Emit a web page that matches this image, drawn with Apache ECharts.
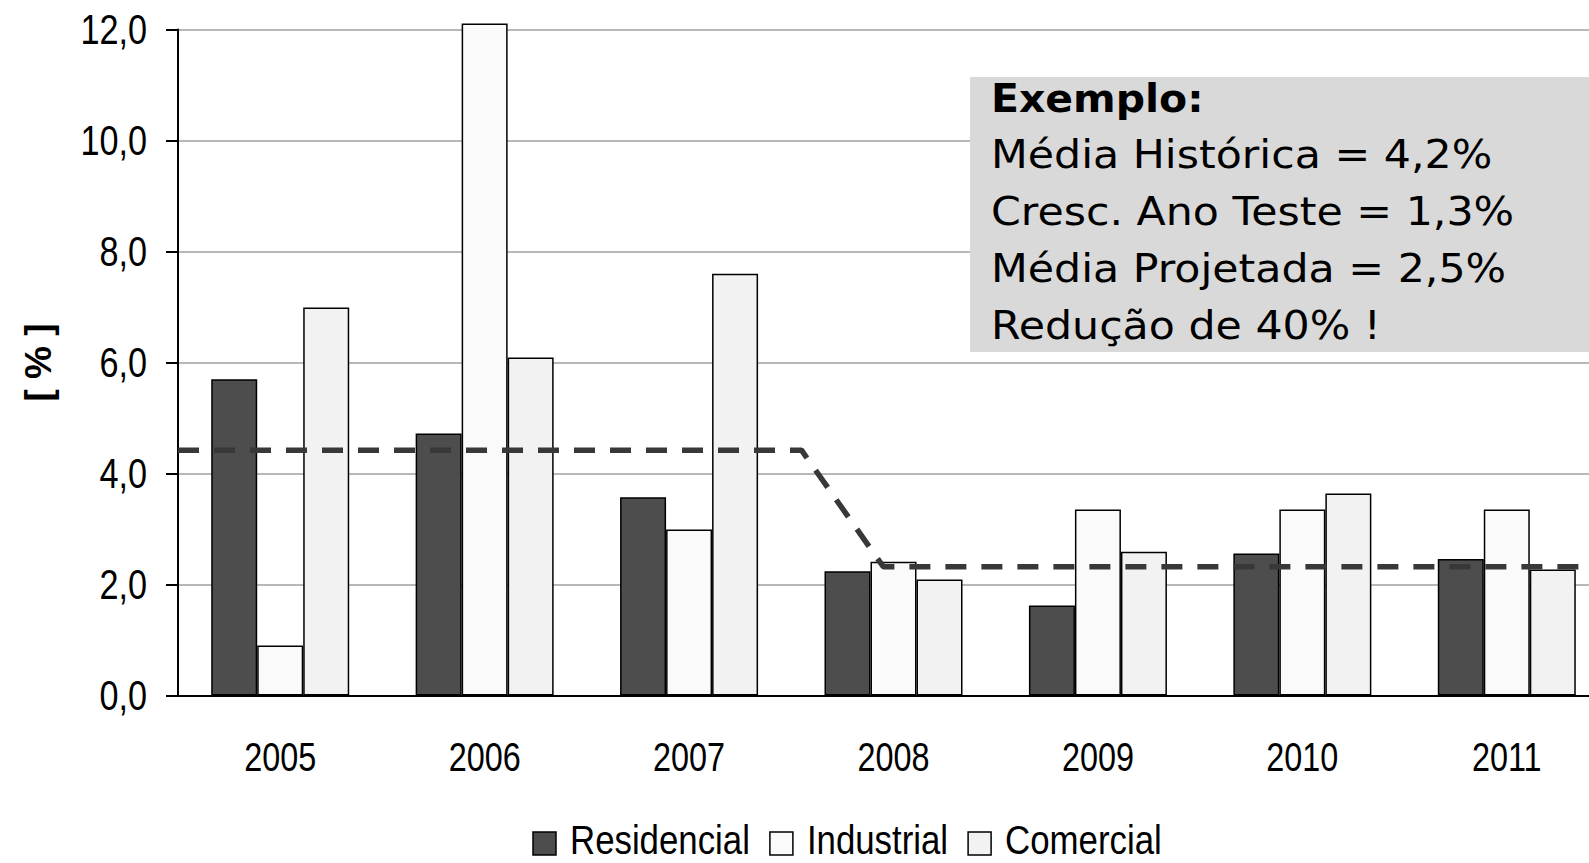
<!DOCTYPE html>
<html>
<head>
<meta charset="utf-8">
<script src="https://cdn.jsdelivr.net/npm/echarts@6/dist/echarts.min.js"></script>
<style>
html,body{margin:0;padding:0;background:#fff;}
#main{width:1589px;height:863px;}
</style>
</head>
<body>
<div id="main"></div>
<script>
const categories = ['2005','2006','2007','2008','2009','2010','2011'];
const residencial = [5.70, 4.72, 3.57, 2.24, 1.62, 2.56, 2.46];
const industrial  = [0.90, 12.11, 2.99, 2.41, 3.35, 3.35, 3.35];
const comercial   = [6.99, 6.09, 7.60, 2.09, 2.59, 3.64, 2.27];
// dashed average line in category units (0 = left edge, 7 = right edge)
const mediaX = [0, 3.05, 3.45, 7];
const mediaY = [4.42, 4.42, 2.32, 2.32];
const yTicks = [0, 2, 4, 6, 8, 10, 12];
const seriesNames = ['Residencial', 'Industrial', 'Comercial'];
const seriesColors = ['#4d4d4d', '#fafafa', '#f2f2f2'];
const boxLines = ['Exemplo:', 'Média Histórica = 4,2%', 'Cresc. Ano Teste = 1,3%', 'Média Projetada = 2,5%', 'Redução de 40% !'];

const NARROW_FONT = "'Liberation Sans', Arial, sans-serif";
const chart = echarts.init(document.getElementById('main'), null, { renderer: 'svg' });

const barStyle = (c) => ({ color: c, borderColor: '#000', borderWidth: 1.5 });

chart.setOption({
  animation: false,
  backgroundColor: '#fff',
  grid: { left: 178, top: 29.5, width: 1431, height: 666, containLabel: false, outerBoundsMode: 'none' },
  xAxis: [{
    type: 'category', data: categories,
    axisLine: { lineStyle: { color: '#000', width: 2 } },
    axisTick: { length: 13, lineStyle: { color: '#000', width: 2 } },
    axisLabel: { show: false },
    splitLine: { show: false }
  }, {
    type: 'value', min: 0, max: 7, show: false, position: 'bottom'
  }],
  yAxis: {
    type: 'value', min: yTicks[0], max: yTicks[yTicks.length - 1], interval: 2,
    name: '[ % ]', nameLocation: 'middle', nameRotate: 90, nameGap: 121,
    nameTextStyle: { fontFamily: "'Liberation Sans',Arial,sans-serif", fontWeight: 'bold', fontSize: 37, color: '#000' },
    axisLine: { show: true, lineStyle: { color: '#000', width: 2 } },
    axisTick: { show: true, length: 12, lineStyle: { color: '#000', width: 2 } },
    axisLabel: { show: false },
    splitLine: { lineStyle: { color: '#a0a0a0', width: 1.5 } }
  },
  series: [
    { name: seriesNames[0], type: 'bar', clip: false, data: residencial, barWidth: 46, barGap: '0%', itemStyle: barStyle(seriesColors[0]) },
    { name: seriesNames[1], type: 'bar', clip: false, data: industrial, barWidth: 46, barGap: '0%', itemStyle: barStyle(seriesColors[1]) },
    { name: seriesNames[2], type: 'bar', clip: false, data: comercial, barWidth: 46, barGap: '0%', itemStyle: barStyle(seriesColors[2]) },
    {
      name: 'Média', type: 'line', xAxisIndex: 1, z: 5,
      data: mediaX.map((x, i) => [x, mediaY[i]]),
      symbol: 'none',
      lineStyle: { color: '#383838', width: 5.5, type: [21, 15] }
    }
  ]
});

// text helpers: narrow text is drawn as real text, condensed horizontally
function txt(text, x, y, opt) {
  const st = {
    text: text, fill: '#000', font: opt.font,
    align: opt.align || 'left', textAlign: opt.align || 'left',
    verticalAlign: 'middle', textVerticalAlign: 'middle'
  };
  if (opt.lineHeight) st.lineHeight = opt.lineHeight;
  return {
    type: 'text', x: x, y: y, z: 20,
    scaleX: opt.scaleX || 1, scaleY: 1,
    style: st
  };
}

const graphics = [];
// annotation box
graphics.push({ type: 'rect', z: 10, shape: { x: 970, y: 77, width: 640, height: 275 }, style: { fill: '#d9d9d9' } });
boxLines.forEach((t, i) => {
  graphics.push(txt(t, 991, 98 + i * 57, {
    font: (i === 0 ? 'bold ' : '') + "39px 'DejaVu Sans', Verdana, sans-serif",
    scaleX: i === 0 ? 1.05 : 1.095
  }));
});

// y tick labels from the y axis scale
yTicks.forEach(v => {
  const py = chart.convertToPixel({ yAxisIndex: 0 }, v);
  graphics.push(txt(v.toFixed(1).replace('.', ','), 147, py, { font: '42px ' + NARROW_FONT, align: 'right', scaleX: 0.815 }));
});
// x category labels from the x axis scale
categories.forEach(c => {
  const px = chart.convertToPixel({ xAxisIndex: 0 }, c);
  graphics.push(txt(c, px, 757, { font: '41px ' + NARROW_FONT, align: 'center', scaleX: 0.79 }));
});

// legend
const ctx = document.createElement('canvas').getContext('2d');
const legendFont = '40px ' + NARROW_FONT;
const legendScale = 0.87;
ctx.font = legendFont;
let lx = 533;
seriesNames.forEach((n, i) => {
  graphics.push({ type: 'rect', z: 20, shape: { x: lx, y: 832, width: 23, height: 23 }, style: { fill: seriesColors[i], stroke: '#000', lineWidth: 1.5 } });
  const tx = lx + 23 + 14;
  graphics.push(txt(n, tx, 840, { font: legendFont, scaleX: legendScale, lineHeight: 34 }));
  lx = tx + ctx.measureText(n).width * legendScale + 20;
});

chart.setOption({ graphic: graphics });
</script>
</body>
</html>
